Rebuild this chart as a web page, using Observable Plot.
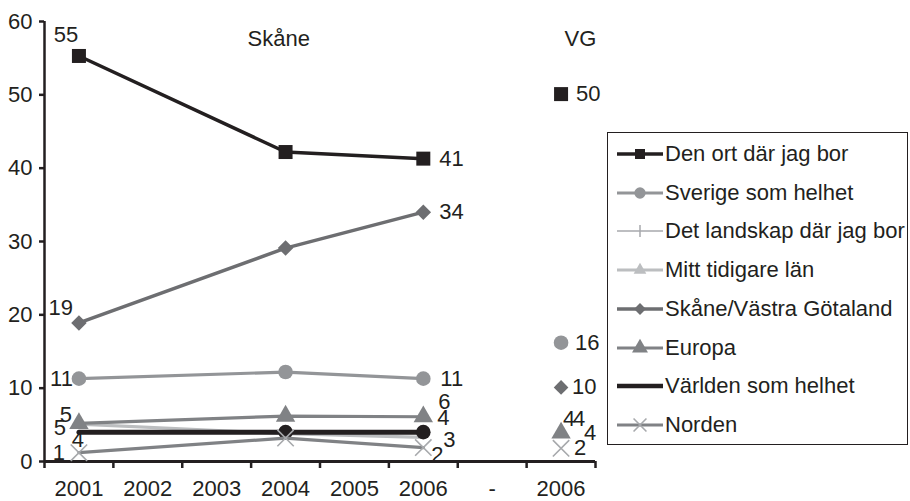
<!DOCTYPE html>
<html><head><meta charset="utf-8">
<script src="https://cdn.jsdelivr.net/npm/d3@7"></script>
<script src="https://cdn.jsdelivr.net/npm/@observablehq/plot@0.6"></script>
<style>
body{margin:0;background:#fff;}
#wrap{position:relative;width:910px;height:501px;font-family:"Liberation Sans",Arial,sans-serif;overflow:hidden;}
#legend{position:absolute;left:607px;top:132px;width:301px;height:313px;border:1.5px solid #231f20;background:#fff;box-sizing:border-box;}
.row{position:absolute;left:9px;height:30px;display:flex;align-items:center;white-space:nowrap;}
.row span{font-size:22px;color:#231f20;margin-left:2px;}
</style></head><body><div id="wrap"><div id="legend"></div></div>
<script>
// ---- data ----
const categories = ["2001","2002","2003","2004","2005","2006","-","2006"];
const skaneIdx = [0, 3, 5];   // category index of each Skåne observation
const vgIdx = 7;              // category index of the VG observation
const seriesNames = ["Den ort där jag bor","Sverige som helhet","Det landskap där jag bor","Mitt tidigare län","Skåne/Västra Götaland","Europa","Världen som helhet","Norden"];
const denOrt  = [55.3, 42.2, 41.3]; const denOrtVG  = 50.1;
const sverige = [11.3, 12.2, 11.3]; const sverigeVG = 16.2;
const landskap = [];               const landskapVG = null;
const mittLan = [5.1, 3.8, 3.3];   const mittLanVG = 4.0;
const skane   = [18.9, 29.1, 34.0]; const skaneVG  = 10.1;
const europa  = [5.2, 6.2, 6.1];   const europaVG  = 3.9;
const varlden = [4.0, 4.0, 4.0];   const varldenVG = 4.0;
const norden  = [1.2, 3.2, 1.9];   const nordenVG  = 1.8;
const yTicks = [0, 10, 20, 30, 40, 50, 60];
const sectionTitles = ["Skåne", "VG"];

// ---- styles ----
const C = {black:"#231f20", sve:"#939598", land:"#a7a9ac", mitt:"#bcbec0", skane:"#6d6e71", eur:"#808285", nor:"#808285", norX:"#a7a9ac"};
const FS = 22;

const rows = (vals) => vals.map((v, k) => ({x: skaneIdx[k] + 0.5, y: v}));
const vgRow = (v) => v == null ? [] : [{x: vgIdx + 0.5, y: v}];

function lineMark(vals, color, w) {
  return Plot.line(rows(vals), {x: "x", y: "y", stroke: color, strokeWidth: w});
}
function dotMark(data, symbol, r, color, filled = true, sw = 1.5) {
  return Plot.dot(data, filled
    ? {x: "x", y: "y", symbol, r, fill: color, stroke: "none"}
    : {x: "x", y: "y", symbol, r, fill: "none", stroke: color, strokeWidth: sw});
}
function lab(x, v, text, dx, dy, anchor = "start") {
  return Plot.text([{x: x + 0.5, y: v}], {x: "x", y: "y", text: () => text, dx, dy, textAnchor: anchor, fill: C.black, fontSize: FS});
}

const marks = [
  // axes
  Plot.axisY({ticks: yTicks, label: null, tickSize: 5, tickPadding: 7, strokeWidth: 2.5, stroke: C.black, fontSize: FS}),
  Plot.axisX({ticks: d3.range(0, 9), label: null, tickFormat: () => "", tickSize: 7, strokeWidth: 2.5, stroke: C.black}),
  Plot.axisX({ticks: d3.range(0, 8).map(i => i + 0.5), label: null, tickSize: 0, tickPadding: 19, tickFormat: d => categories[Math.floor(d)], fontSize: FS}),
  Plot.ruleX([0], {y1: 0, y2: 60, stroke: C.black, strokeWidth: 2.5}),
  Plot.ruleY([0], {x1: 0, x2: 8, stroke: C.black, strokeWidth: 3}),

  // series in legend order (later on top)
  lineMark(denOrt, C.black, 3.5),
  dotMark(rows(denOrt), "square", 7.9, C.black),
  dotMark(vgRow(denOrtVG), "square", 7.9, C.black),

  lineMark(sverige, C.sve, 3.2),
  dotMark(rows(sverige), "circle", 7.3, C.sve),
  dotMark(vgRow(sverigeVG), "circle", 7.3, C.sve),

  lineMark(mittLan, C.mitt, 3.2),

  lineMark(skane, C.skane, 3.5),
  dotMark(rows(skane), "diamond2", 7, C.skane),
  dotMark(vgRow(skaneVG), "diamond2", 6.6, C.skane),

  lineMark(europa, C.eur, 3.2),
  dotMark(rows(europa), "triangle", 7.2, C.eur),
  dotMark(vgRow(europaVG), "triangle", 7.2, C.eur),

  lineMark(varlden, C.black, 5),
  dotMark(rows(varlden).slice(1), "circle", 7.3, C.black),

  lineMark(norden, C.nor, 3.2),
  dotMark(rows(norden), "times", 7.5, C.norX, false, 1.6),
  dotMark(vgRow(nordenVG), "times", 7.5, C.norX, false, 1.6),

  // section titles
  Plot.text([{x: 3.4, y: 57.6, t: sectionTitles[0]}, {x: 7.78, y: 57.6, t: sectionTitles[1]}], {x: "x", y: "y", text: "t", fontSize: FS, fill: C.black}),

  // data labels
  lab(skaneIdx[0], denOrt[0], "55", -13, -21, "middle"),
  lab(skaneIdx[2], denOrt[2], "41", 16, 0),
  lab(vgIdx, denOrtVG, "50", 15, 0),

  lab(skaneIdx[0], sverige[0], "11", -6, 0, "end"),
  lab(skaneIdx[2], sverige[2], "11", 17, 0),
  lab(vgIdx, sverigeVG, "16", 14, 0),

  lab(skaneIdx[0], skane[0], "19", -6, -15, "end"),
  lab(skaneIdx[2], skane[2], "34", 16, 0),
  lab(vgIdx, skaneVG, "10", 11, 0),

  lab(skaneIdx[0], europa[0], "5", -13, -8, "middle"),
  lab(skaneIdx[2], europa[2], "6", 21, -15, "middle"),
  lab(vgIdx, europaVG, "4", 29, 0, "middle"),

  lab(skaneIdx[0], mittLan[0], "5", -19, 4, "middle"),
  lab(skaneIdx[2], mittLan[2], "3", 26, 3, "middle"),
  lab(vgIdx, mittLanVG, "4", 8, -13, "middle"),

  lab(skaneIdx[0], varlden[0], "4", -1, 8, "middle"),
  lab(skaneIdx[2], varlden[2], "4", 20, -14, "middle"),
  lab(vgIdx, varldenVG, "4", 18, -13, "middle"),

  lab(skaneIdx[0], norden[0], "1", -20, 0, "middle"),
  lab(skaneIdx[2], norden[2], "2", 14, 7, "middle"),
  lab(vgIdx, nordenVG, "2", 13, 0)
];

const chart = Plot.plot({
  width: 910, height: 501,
  marginLeft: 44, marginRight: 315, marginTop: 21, marginBottom: 40,
  x: {domain: [0, 8], axis: null},
  y: {domain: [0, 60], axis: null},
  style: {fontFamily: '"Liberation Sans", Arial, sans-serif', fontSize: FS + "px", color: C.black, background: "#fff", overflow: "visible"},
  marks
});
const wrap = document.getElementById("wrap");
wrap.insertBefore(chart, wrap.firstChild);

// ---- legend ----
const legendStyle = [
  {c: C.black, w: 3.5, sym: d3.symbolSquare, size: 100, fill: C.black},
  {c: C.sve, w: 3.2, sym: d3.symbolCircle, size: 100, fill: C.sve},
  {c: C.land, w: 1.5, sym: d3.symbolCross, size: 0, fill: null, plus: true},
  {c: C.mitt, w: 3.2, sym: d3.symbolTriangle, size: 70, fill: C.mitt},
  {c: C.skane, w: 3.5, sym: d3.symbolDiamond2, size: 90, fill: C.skane},
  {c: C.eur, w: 3.2, sym: d3.symbolTriangle, size: 110, fill: C.eur},
  {c: C.black, w: 4.5, sym: null},
  {c: C.nor, w: 3.2, sym: d3.symbolTimes, size: 110, fill: null, times: true}
];
const legend = document.getElementById("legend");
seriesNames.forEach((name, k) => {
  const s = legendStyle[k];
  const row = document.createElement("div");
  row.className = "row";
  row.style.top = (21 + k * 38.7 - 15) + "px";
  let m = "";
  if (s.plus) m = `<path d="M23,9V21" stroke="${s.c}" stroke-width="1.5"/>`;
  else if (s.times) m = `<path d="${d3.symbol(s.sym, s.size)()}" transform="translate(23,15)" stroke="${C.norX}" stroke-width="1.6" fill="none"/>`;
  else if (s.sym) m = `<path d="${d3.symbol(s.sym, s.size)()}" transform="translate(23,15)" fill="${s.fill}"/>`;
  row.innerHTML = `<svg width="46" height="30"><line x1="0" x2="46" y1="15" y2="15" stroke="${s.c}" stroke-width="${s.w}"/>${m}</svg><span>${name}</span>`;
  legend.appendChild(row);
});
</script></body></html>
